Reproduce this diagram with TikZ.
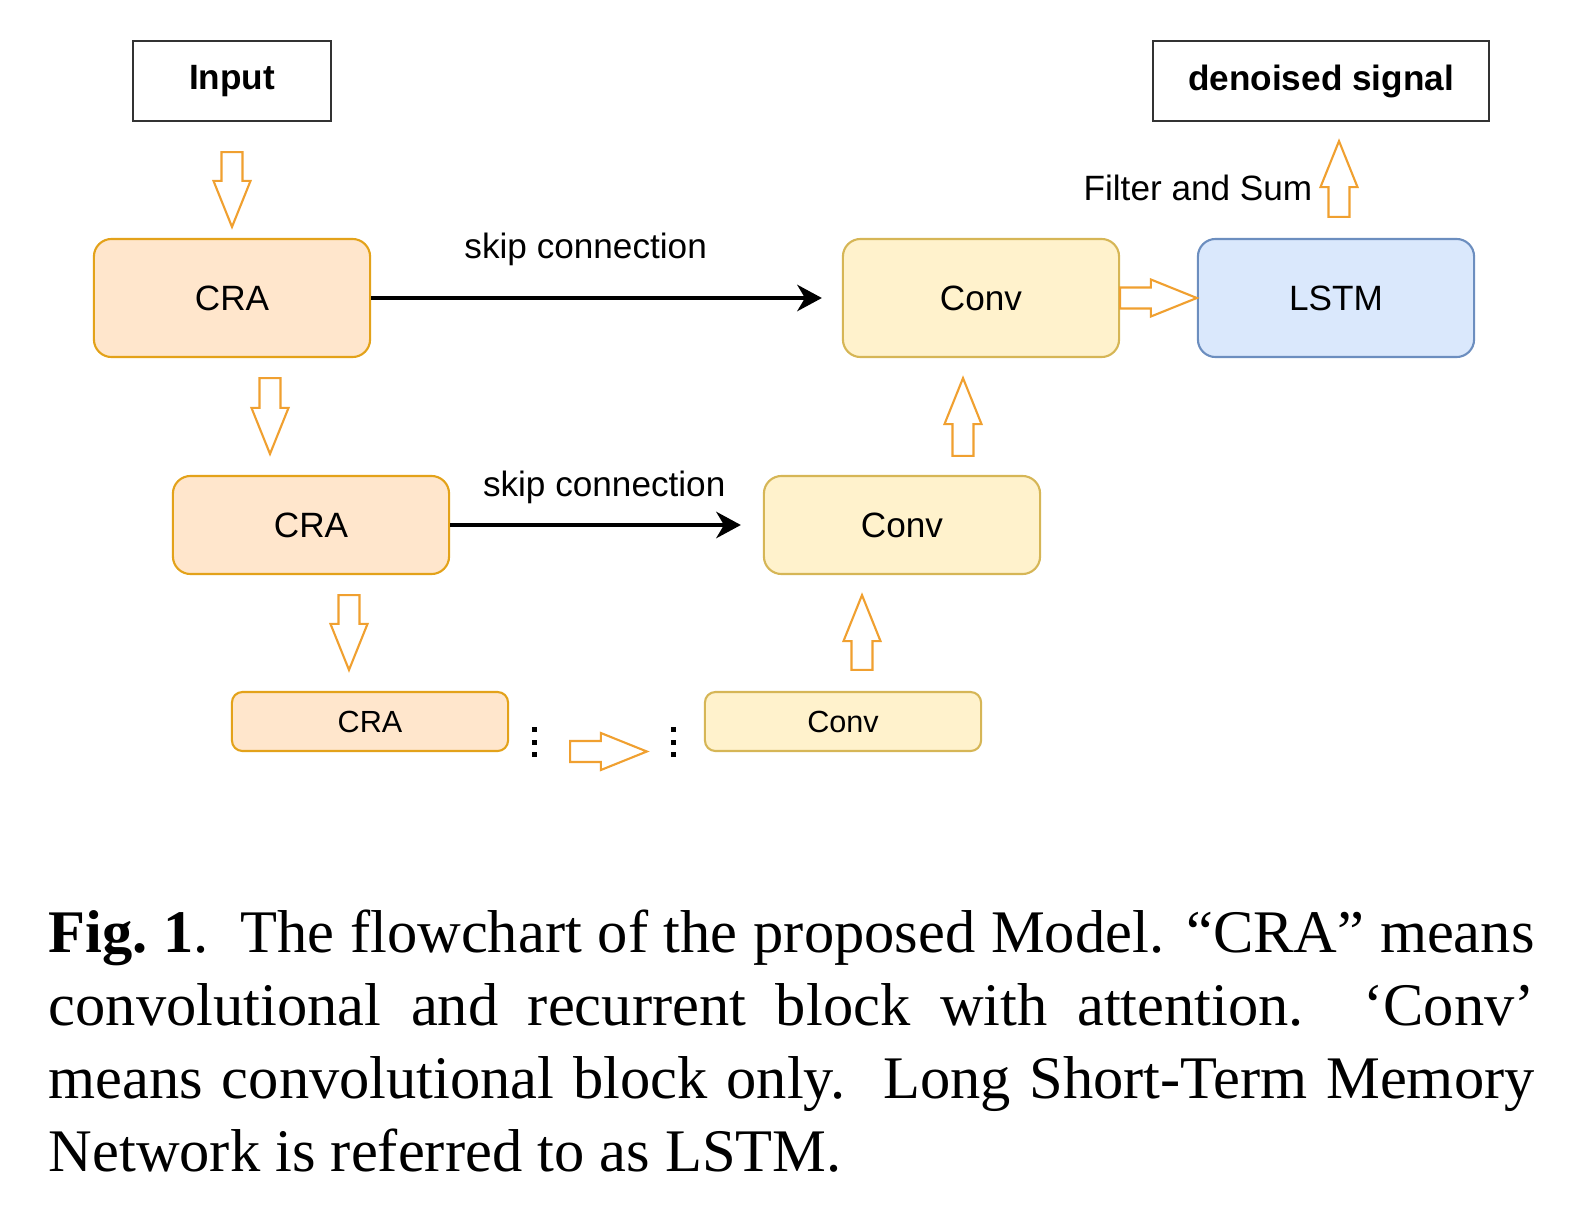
\documentclass[tikz,border=0pt]{standalone}
\usepackage{fontspec}
\setmainfont{Liberation Serif}
\setsansfont{Liberation Sans}
\usetikzlibrary{arrows.meta,calc,positioning}

\definecolor{craFill}{HTML}{FFE6CC}
\definecolor{craLine}{HTML}{E3A21A}
\definecolor{convFill}{HTML}{FFF2CC}
\definecolor{convLine}{HTML}{D6B656}
\definecolor{lstmFill}{HTML}{DAE8FC}
\definecolor{lstmLine}{HTML}{6C8EBF}
\definecolor{fatLine}{HTML}{F0A030}

\tikzset{
  fat/.style={draw=fatLine, line width=0.6pt, fill=white, to path={
    ($(\tikztostart)!0.105cm!90:(\tikztotarget)$)
    -- ($($(\tikztotarget)!0.46cm!(\tikztostart)$)!0.105cm!90:(\tikztotarget)$)
    -- ($($(\tikztotarget)!0.46cm!(\tikztostart)$)!0.185cm!90:(\tikztotarget)$)
    -- (\tikztotarget)
    -- ($($(\tikztotarget)!0.46cm!(\tikztostart)$)!0.185cm!-90:(\tikztotarget)$)
    -- ($($(\tikztotarget)!0.46cm!(\tikztostart)$)!0.105cm!-90:(\tikztotarget)$)
    -- ($(\tikztostart)!0.105cm!-90:(\tikztotarget)$)
    -- cycle}},
}

\begin{document}
\begin{tikzpicture}[x=0.01cm, y=-0.01cm,
  font=\sffamily\fontsize{10}{12}\selectfont,
  io/.style={draw=black!80, line width=0.6pt, minimum height=0.8cm,
    font=\sffamily\bfseries\fontsize{10}{12}\selectfont},
  blk/.style={rounded corners=5pt, line width=0.6pt, minimum width=2.76cm, minimum height=1.18cm},
  cra/.style={blk, draw=craLine, fill=craFill},
  conv/.style={blk, draw=convLine, fill=convFill},
  lstm/.style={blk, draw=lstmLine, fill=lstmFill},
  mid/.style={minimum height=0.98cm},
  small/.style={minimum height=0.59cm, rounded corners=3pt, font=\sffamily\fontsize{8.7}{10}\selectfont},
  lbl/.style={inner sep=0pt},
  skip/.style={-{Stealth[length=7pt,width=7.5pt,inset=2.2pt]}, line width=1.1pt},
  ]
  \useasboundingbox (0,0) rectangle (1572,1206);

  % boxes
  \node[io, minimum width=1.98cm] (inp) at (232,81) {Input};
  \node[io, minimum width=3.36cm] (out) at (1321,81) {denoised signal};
  \node[cra] (cra1) at (232,298) {CRA};
  \node[conv] (conv1) at (981,298) {Conv};
  \node[lstm] (lstm) at (1336,298) {LSTM};
  \node[cra, mid] (cra2) at (311,525) {CRA};
  \node[conv, mid] (conv2) at (902,525) {Conv};
  \node[cra, small] (cra3) at (370,721.5) {CRA};
  \node[conv, small] (conv3) at (843,721.5) {Conv};

  % skip connections
  \draw[skip] (cra1.east) -- node[lbl, pos=0.476, above=0.3cm] (sk1) {skip connection} ($(conv1.west)+(-20,0)$);
  \draw[skip] (cra2.east) -- node[lbl, pos=0.53, above=0.19cm] (sk2) {skip connection} ($(conv2.west)+(-22,0)$);

  % block arrows
  \draw[fat] ($(inp.south)+(0,30)$) to ($(cra1.north)+(0,-11)$);
  \draw[fat] ($(cra1.south)+(38,20)$) to ($(cra2.north)+(-41,-21)$);
  \draw[fat] ($(cra2.south)+(38,20)$) to ($(cra3.north)+(-21,-21)$);
  \draw[fat] ($(cra3.east)+(61,30)$) to ($(conv3.west)+(-57,30)$);
  \draw[fat] ($(conv3.north)+(19,-21)$) to ($(conv2.south)+(-40,20)$);
  \draw[fat] ($(conv2.north)+(61,-19)$) to ($(conv1.south)+(-18,20)$);
  \draw[fat] (conv1.east) to (lstm.west);
  \draw[fat] ($(lstm.north)+(3,-21)$) to ($(out.south)+(18,19)$);
  \node[lbl, anchor=base east] (fsum) at (1313,200) {Filter and Sum};

  % dots
  \foreach \x in {534,673}
    \foreach \y in {729,742,754}
      \fill (\x-2.5,\y-2.5) rectangle ++(5,5);

  % caption
  \node[lbl, anchor=base west, text width=14.85cm, align=justify,
    font=\rmfamily\fontsize{17.2}{20.8}\selectfont] (cap) at (48,952)
    {\hyphenpenalty=10000 \textbf{Fig.~1}.\ \ The flowchart of the proposed Model.  “CRA” means\linebreak
     convolutional and recurrent block with attention.\ \ ‘Conv’\linebreak
     means convolutional block only.\ \ Long Short-Term Memory\linebreak
     Network is referred to as LSTM.};
\end{tikzpicture}
\end{document}
